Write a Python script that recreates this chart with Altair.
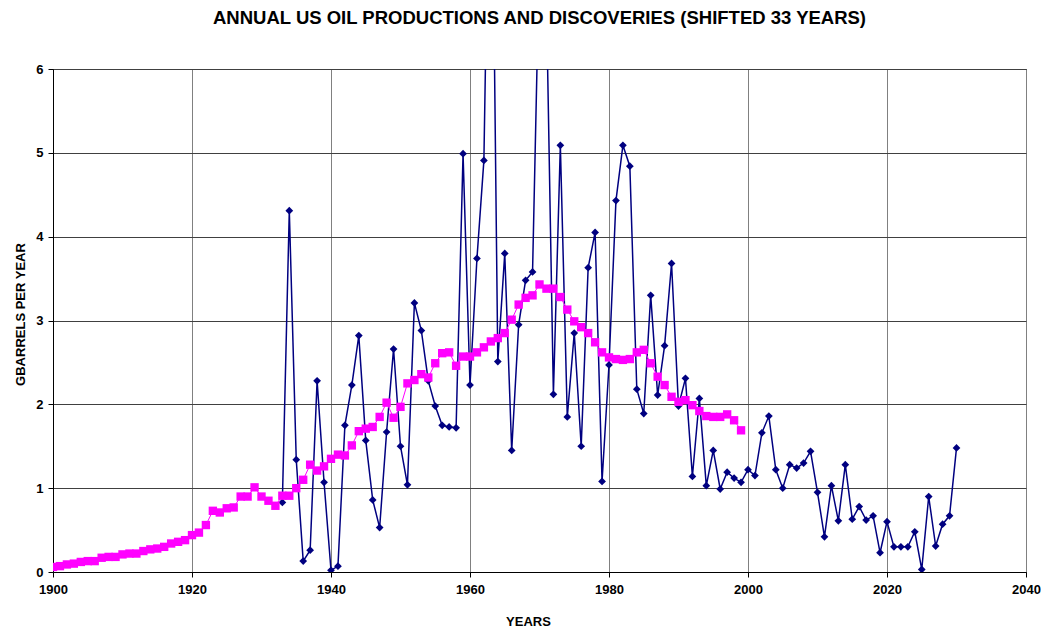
import altair as alt
import pandas as pd

# Annual US oil production (Gb/yr), 1900-1999
prod_years = list(range(1900, 2000))
prod_values = [
    0.06, 0.07, 0.09, 0.10, 0.12, 0.13, 0.13, 0.17, 0.18, 0.18,
    0.21, 0.22, 0.22, 0.25, 0.27, 0.28, 0.30, 0.34, 0.36, 0.38,
    0.44, 0.47, 0.56, 0.73, 0.71, 0.76, 0.77, 0.90, 0.90, 1.01,
    0.90, 0.85, 0.79, 0.91, 0.91, 1.00, 1.10, 1.28, 1.21, 1.26,
    1.35, 1.40, 1.39, 1.51, 1.68, 1.71, 1.73, 1.85, 2.02, 1.84,
    1.97, 2.25, 2.29, 2.36, 2.32, 2.49, 2.61, 2.62, 2.46, 2.57,
    2.57, 2.62, 2.68, 2.75, 2.79, 2.85, 3.01, 3.19, 3.27, 3.30,
    3.43, 3.38, 3.38, 3.28, 3.13, 2.99, 2.92, 2.85, 2.74, 2.62,
    2.56, 2.54, 2.53, 2.54, 2.62, 2.65, 2.49, 2.33, 2.23, 2.09,
    2.03, 2.05, 1.99, 1.92, 1.86, 1.85, 1.85, 1.88, 1.81, 1.69,
]

# Annual US discoveries shifted 33 years (Gb/yr), 1933-2030
disc_years = list(range(1933, 2031))
disc_values = [
    0.83, 4.31, 1.34, 0.13, 0.26, 2.28, 1.07,
    0.02, 0.07, 1.75, 2.23, 2.82, 1.57, 0.86, 0.53, 1.67, 2.66,
    1.50, 1.04, 3.21, 2.88, 2.28, 1.98, 1.75, 1.73, 1.72, 4.99,
    2.23, 3.74, 4.91, 10.0, 2.51, 3.80, 1.45, 2.95, 3.48, 3.58,
    7.4, 6.8, 2.12, 5.09, 1.85, 2.85, 1.50, 3.63, 4.05, 1.08,
    2.47, 4.43, 5.09, 4.84, 2.18, 1.89, 3.30, 2.11, 2.70, 3.68,
    1.98, 2.31, 1.14, 2.07, 1.03, 1.45, 0.99, 1.19, 1.12, 1.07,
    1.22, 1.15, 1.66, 1.86, 1.22, 1.00, 1.28, 1.24, 1.30, 1.44,
    0.95, 0.42, 1.03, 0.61, 1.28, 0.63, 0.78, 0.62, 0.67, 0.23,
    0.60, 0.30, 0.30, 0.30, 0.48, 0.03, 0.90, 0.31, 0.57, 0.67,
    1.48,
]

x_ticks = [1900, 1920, 1940, 1960, 1980, 2000, 2020, 2040]
y_ticks = [0, 1, 2, 3, 4, 5, 6]

prod_df = pd.DataFrame({"year": prod_years, "value": prod_values})
disc_df = pd.DataFrame({"year": disc_years, "value": disc_values})

FONT = "Liberation Sans"

common_axis = dict(
    labelFont=FONT, labelFontSize=13, labelFontWeight="bold", labelColor="#000000",
    titleFont=FONT, titleFontSize=13, titleFontWeight="bold", titleColor="#000000",
    domainColor="#000000", tickColor="#000000", tickSize=5,
    gridOpacity=1, gridWidth=1, labelFlush=False,
)

x_enc = alt.X(
    "year:Q",
    scale=alt.Scale(domain=[1900, 2040], nice=False),
    axis=alt.Axis(
        values=x_ticks, format="d", title="YEARS",
        gridColor="#808080", titleX=475, titleY=53, titleBaseline="alphabetic",
        labelPadding=6, **common_axis,
    ),
)
y_enc = alt.Y(
    "value:Q",
    scale=alt.Scale(domain=[0, 6], nice=False),
    axis=alt.Axis(
        values=y_ticks, title="GBARRELS PER YEAR",
        gridColor="#404040", titleX=-29, titleY=245, titleBaseline="alphabetic",
        titleAngle=270, titleAlign="center", labelPadding=5, **common_axis,
    ),
)

disc = alt.Chart(disc_df).mark_line(
    color="#000080", strokeWidth=1.5, clip=True,
    point=alt.OverlayMarkDef(shape="diamond", size=60, filled=True, color="#000080", clip=True),
).encode(x=x_enc, y=y_enc)

prod = alt.Chart(prod_df).mark_line(
    color="#FF00FF", strokeWidth=1, clip=True,
    point=alt.OverlayMarkDef(shape="square", size=70, filled=True, color="#FF00FF", clip=True),
).encode(x=x_enc, y=y_enc)

chart = alt.layer(disc, prod).properties(
    width=973,
    height=503,
    background="#ffffff",
    autosize=alt.AutoSizeParams(type="none"),
    padding={"left": 45, "top": 61, "right": 15, "bottom": 55},
    title=alt.TitleParams(
        "ANNUAL US OIL PRODUCTIONS AND DISCOVERIES (SHIFTED 33 YEARS)",
        font=FONT, fontSize=18.5, fontWeight="bold", color="#000000",
        anchor="middle", offset=36,
    ),
).configure_view(
    stroke="#000000", strokeWidth=1,
)

chart.save("out.html", embed_options={"renderer": "svg", "actions": False})
